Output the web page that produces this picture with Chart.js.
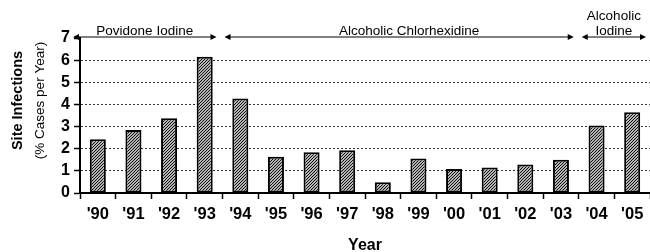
<!DOCTYPE html>
<html>
<head>
<meta charset="utf-8">
<script src="https://cdn.jsdelivr.net/npm/chart.js@4/dist/chart.umd.min.js"></script>
<style>
  html, body { margin: 0; padding: 0; background: #fff; }
</style>
</head>
<body>
<canvas id="myChart" width="650" height="252"></canvas>
<script>
// ********* DATA *********
const years = ["'90", "'91", "'92", "'93", "'94", "'95", "'96", "'97", "'98", "'99", "'00", "'01", "'02", "'03", "'04", "'05"];
const infectionRates = [2.43, 2.85, 3.38, 6.15, 4.27, 1.64, 1.84, 1.93, 0.49, 1.56, 1.08, 1.15, 1.29, 1.5, 3.05, 3.65];
const yTickValues = [0, 1, 2, 3, 4, 5, 6, 7];

// antiseptic periods shown above the bars
const periodNames = [["Povidone Iodine"], ["Alcoholic Chlorhexidine"], ["Alcoholic", "Iodine"]];
const periodFirstYear = ["'90", "'94", "'04"];
const periodLastYear = ["'93", "'03", "'05"];

const FONT = "'Liberation Sans', Arial, sans-serif";

// hatch fill for the bars
const makeHatch = () => {
  const c = document.createElement("canvas");
  c.width = 3;
  c.height = 3;
  const g = c.getContext("2d");
  g.fillStyle = "#fff";
  g.fillRect(0, 0, 3, 3);
  g.strokeStyle = "#000";
  g.lineWidth = 1.1;
  g.beginPath();
  g.moveTo(0, 3); g.lineTo(3, 0);
  g.moveTo(-1, 1); g.lineTo(1, -1);
  g.moveTo(2, 4); g.lineTo(4, 2);
  g.stroke();
  return g.createPattern(c, "repeat");
};

const drawArrowHead = (ctx, x, y, dir) => {
  ctx.beginPath();
  ctx.moveTo(x, y);
  ctx.lineTo(x - dir * 6, y - 3);
  ctx.lineTo(x - dir * 6, y + 3);
  ctx.closePath();
  ctx.fill();
};

// draws the period arrows, labels and axis titles
const annotationPlugin = {
  id: "annotations",
  afterDraw(chart) {
    const ctx = chart.ctx;
    const x = chart.scales.x;
    const area = chart.chartArea;
    const lineY = area.top - 1;
    const leftPad = [-7, 2, 3];
    const rightPad = [-6, -5, -4];
    const textShift = [0, 10, 0];

    ctx.save();
    ctx.strokeStyle = "#000";
    ctx.fillStyle = "#000";
    ctx.lineWidth = 1;
    periodNames.forEach((lines, i) => {
      const a = x.getPixelForValue(years.indexOf(periodFirstYear[i]) - 0.5) + leftPad[i];
      const b = x.getPixelForValue(years.indexOf(periodLastYear[i]) + 0.5) + rightPad[i];
      ctx.beginPath();
      ctx.moveTo(a + 3, lineY);
      ctx.lineTo(b - 3, lineY);
      ctx.stroke();
      drawArrowHead(ctx, a, lineY, -1);
      drawArrowHead(ctx, b, lineY, 1);

      ctx.font = "13.5px " + FONT;
      ctx.textAlign = "center";
      ctx.textBaseline = "alphabetic";
      const cx = (a + b) / 2 + textShift[i];
      for (let k = 0; k < lines.length; k++) {
        const base = lineY - 2 - (lines.length - 1 - k) * 15;
        ctx.fillText(lines[k], cx, base);
      }
    });

    // y axis title (two lines, bold + normal)
    const midY = (area.top + area.bottom) / 2 - 15;
    ctx.textBaseline = "middle";
    ctx.textAlign = "center";
    ctx.save();
    ctx.translate(18, midY);
    ctx.rotate(-Math.PI / 2);
    ctx.font = "bold 14.5px " + FONT;
    ctx.fillText("Site Infections", 0, 0);
    ctx.restore();
    ctx.save();
    ctx.translate(40, midY);
    ctx.rotate(-Math.PI / 2);
    ctx.font = "13.5px " + FONT;
    ctx.fillText("(% Cases per Year)", 0, 0);
    ctx.restore();

    // x axis title
    ctx.font = "bold 16px " + FONT;
    ctx.fillText("Year", (area.left + area.right) / 2, 246);
    ctx.restore();
  },
};

// ********* CHART *********
const ctx = document.getElementById("myChart");
const myChartView = new Chart(ctx, {
  type: "bar",
  data: {
    labels: years,
    datasets: [
      {
        label: "Site Infections",
        data: infectionRates,
        backgroundColor: makeHatch(),
        borderColor: "#000",
        borderWidth: 2,
        borderSkipped: false,
        categoryPercentage: 1,
        barPercentage: 0.45,
      },
    ],
  },
  options: {
    responsive: false,
    devicePixelRatio: 1,
    animation: false,
    layout: { padding: { top: 38, right: 0, left: 0, bottom: 0 } },
    plugins: {
      legend: { display: false },
      tooltip: { enabled: false },
    },
    scales: {
      x: {
        afterFit: (scale) => {
          scale.height = 59;
        },
        grid: {
          offset: true,
          drawOnChartArea: false,
          tickLength: 6,
          tickColor: "#000",
          tickWidth: 1.5,
        },
        border: { color: "#000", width: 2 },
        ticks: {
          color: "#000",
          padding: 6,
          font: { family: FONT, size: 16.5, weight: "bold" },
          maxRotation: 0,
          autoSkip: false,
        },
      },
      y: {
        min: yTickValues[0],
        max: yTickValues[yTickValues.length - 1],
        afterFit: (scale) => {
          scale.width = 80;
        },
        afterBuildTicks: (scale) => {
          scale.ticks = yTickValues.map((v) => ({ value: v }));
        },
        grid: {
          color: (c) =>
            c.tick && (c.tick.value === 0 || c.tick.value === 7) ? "rgba(0,0,0,0)" : "#333",
          lineWidth: 1,
          tickLength: 6,
          tickColor: "#000",
          tickWidth: 1.5,
        },
        border: { color: "#000", width: 2, dash: [2, 2] },
        ticks: {
          color: "#000",
          padding: 4,
          autoSkip: false,
          font: { family: FONT, size: 16, weight: "bold" },
        },
      },
    },
  },
  plugins: [annotationPlugin],
});
</script>
</body>
</html>
